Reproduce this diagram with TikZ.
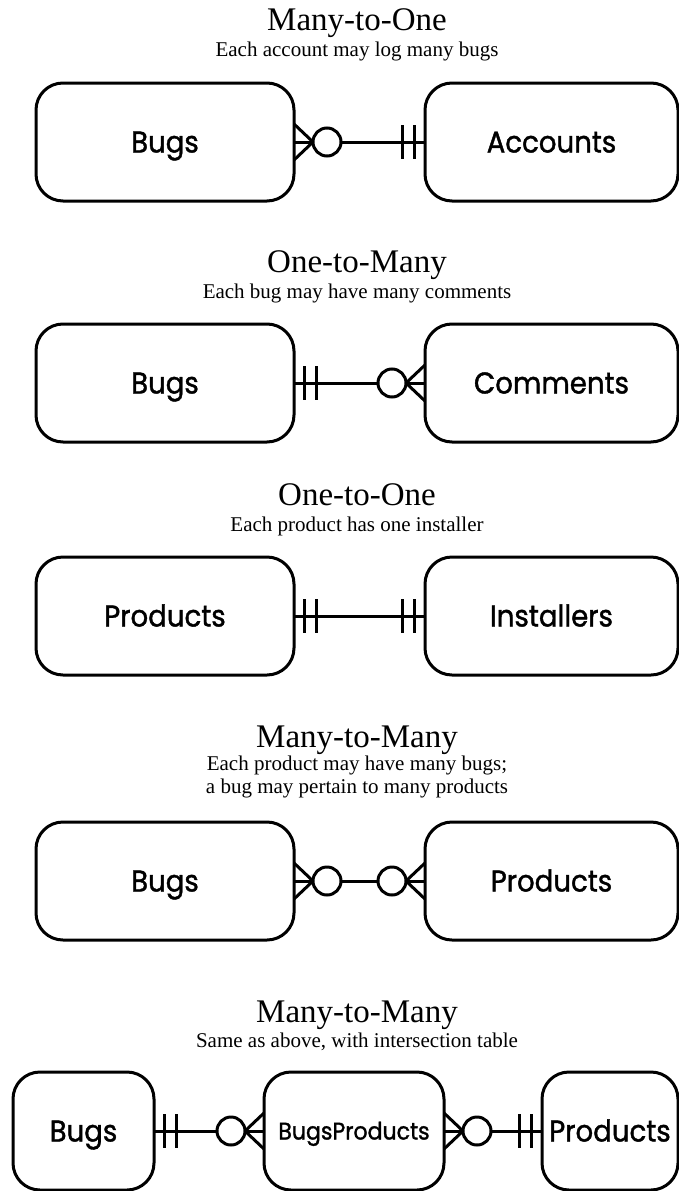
\documentclass[tikz,border=0pt]{standalone}
\usepackage{fontspec}
\setmainfont{Liberation Serif}
\newfontfamily\entfont{Poppins}[FakeBold=1.3, FakeStretch=0.92]
\usetikzlibrary{calc}
\tikzset{
  entity/.style={draw, line width=3pt, rounded corners=27pt, outer sep=0pt, inner sep=0pt,
    minimum height=118pt, text height=21pt, text depth=0pt,
    font=\entfont\fontsize{30}{32}\selectfont},
  conn/.style={line width=3pt},
  ttl/.style={anchor=base, inner sep=0pt, font=\fontsize{33}{36}\selectfont},
  subt/.style={anchor=base, inner sep=0pt, font=\fontsize{21}{23}\selectfont},
}
% crow's foot + circle on east side of a node (apex to the right)
\newcommand\footR[1]{%
  \draw[conn] ($(#1.east)+(0pt,18pt)$) -- ($(#1.east)+(19pt,0pt)$) -- ($(#1.east)+(0pt,-18pt)$);
  \draw[conn,fill=white] ($(#1.east)+(33pt,0pt)$) circle[radius=14pt];}
\newcommand\footL[1]{%
  \draw[conn] ($(#1.west)+(0pt,18pt)$) -- ($(#1.west)+(-19pt,0pt)$) -- ($(#1.west)+(0pt,-18pt)$);
  \draw[conn,fill=white] ($(#1.west)+(-33pt,0pt)$) circle[radius=14pt];}
\newcommand\barsR[1]{%
  \draw[conn] ($(#1.east)+(10pt,17pt)$) -- ($(#1.east)+(10pt,-17pt)$);
  \draw[conn] ($(#1.east)+(22pt,17pt)$) -- ($(#1.east)+(22pt,-17pt)$);}
\newcommand\barsL[1]{%
  \draw[conn] ($(#1.west)+(-11pt,17pt)$) -- ($(#1.west)+(-11pt,-17pt)$);
  \draw[conn] ($(#1.west)+(-23pt,17pt)$) -- ($(#1.west)+(-23pt,-17pt)$);}
\begin{document}
\begin{tikzpicture}[x=1pt,y=-1pt]
\useasboundingbox (0,0) rectangle (679,1191);
\fill[white] (0,0) rectangle (679,1191);

% Row 1
\node[ttl] (t1) at (357,30) {Many-to-One};
\node[subt] (s1) at (357,56) {Each account may log many bugs};
\node[entity, minimum width=258pt] (b1) at (165,142) {Bugs};
\node[entity, minimum width=253pt] (a1) at (551.5,142) {Accounts};
\draw[conn] (b1.east) -- (a1.west);
\footR{b1}
\barsL{a1}

% Row 2
\node[ttl] (t2) at (357,272) {One-to-Many};
\node[subt] (s2) at (357,298) {Each bug may have many comments};
\node[entity, minimum width=258pt] (b2) at (165,383) {Bugs};
\node[entity, minimum width=253pt] (c2) at (551.5,383) {Comments};
\draw[conn] (b2.east) -- (c2.west);
\barsR{b2}
\footL{c2}

% Row 3
\node[ttl] (t3) at (357,505) {One-to-One};
\node[subt] (s3) at (357,531) {Each product has one installer};
\node[entity, minimum width=258pt] (p3) at (165,616) {Products};
\node[entity, minimum width=253pt] (i3) at (551.5,616) {Installers};
\draw[conn] (p3.east) -- (i3.west);
\barsR{p3}
\barsL{i3}

% Row 4
\node[ttl] (t4) at (357,747) {Many-to-Many};
\node[subt] (s4a) at (357,770) {Each product may have many bugs;};
\node[subt] (s4b) at (357,793) {a bug may pertain to many products};
\node[entity, minimum width=258pt] (b4) at (165,881) {Bugs};
\node[entity, minimum width=253pt] (p4) at (551.5,881) {Products};
\draw[conn] (b4.east) -- (p4.west);
\footR{b4}
\footL{p4}

% Row 5
\node[ttl] (t5) at (357,1022) {Many-to-Many};
\node[subt] (s5) at (357,1047) {Same as above, with intersection table};
\node[entity, minimum width=141pt] (b5) at (83.5,1131) {Bugs};
\node[entity, minimum width=180pt, font=\entfont\fontsize{24}{26}\selectfont, text height=17pt] (bp5) at (354,1131) {BugsProducts};
\node[entity, minimum width=136pt] (p5) at (610,1131) {Products};
\draw[conn] (b5.east) -- (bp5.west);
\draw[conn] (bp5.east) -- (p5.west);
\barsR{b5}
\footL{bp5}
\footR{bp5}
\barsL{p5}
\end{tikzpicture}
\end{document}
